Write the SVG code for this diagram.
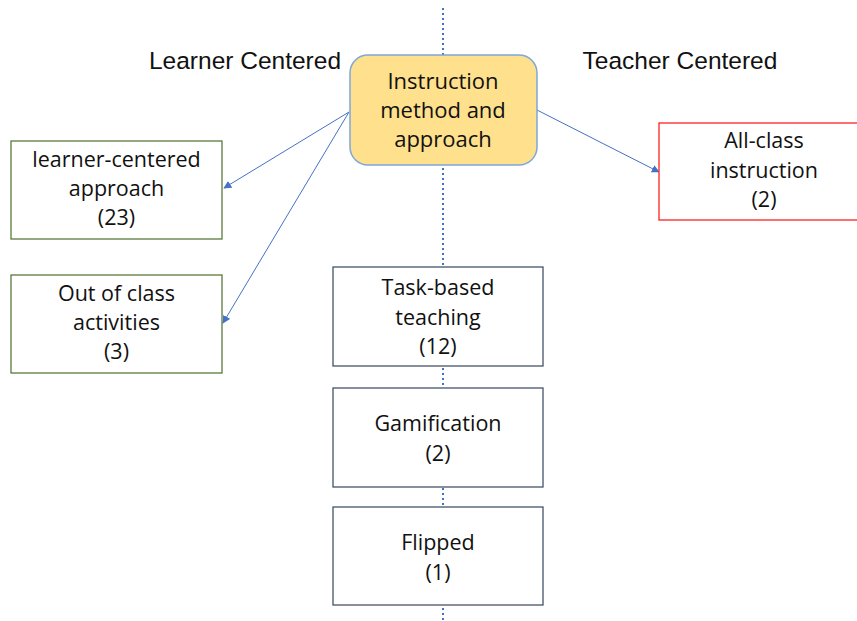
<svg xmlns="http://www.w3.org/2000/svg" width="857" height="621" viewBox="0 0 857 621">
<defs>
<style>
.t{font-family:"Open Sans","Noto Sans",sans-serif;font-size:21.5px;fill:#111;text-anchor:middle}
.h{font-family:"Liberation Sans",Arial,sans-serif;font-size:24.5px;fill:#111;text-anchor:middle}
.g{fill:#fff;stroke:#5A7A3A;stroke-width:1.3}
.b{fill:#fff;stroke:#44546A;stroke-width:1.3}
.r{fill:#fff;stroke:#FF2020;stroke-width:1.3}
.c{stroke:#4472C4;stroke-width:1;fill:none}
.d{stroke:#4472C4;stroke-width:2;stroke-dasharray:2 3;fill:none}
</style>
<marker id="ah" viewBox="0 0 10 10" refX="9" refY="5" markerWidth="8" markerHeight="8" markerUnits="userSpaceOnUse" orient="auto">
<path d="M0,0 L10,5 L0,10 z" fill="#4472C4"/>
</marker>
</defs>
<g id="axis">
<line class="d" x1="443" y1="8" x2="443" y2="620"/>
</g>
<text class="h" x="245" y="69">Learner Centered</text>
<text class="h" x="680" y="69">Teacher Centered</text>
<g id="connectors">
<line class="c" x1="349" y1="112" x2="224" y2="188" marker-end="url(#ah)"/>
<line class="c" x1="349" y1="112" x2="223" y2="323" marker-end="url(#ah)"/>
<line class="c" x1="537" y1="110" x2="659" y2="172" marker-end="url(#ah)"/>
</g>
<g id="center">
<rect x="350" y="55" width="187" height="110" rx="18" fill="#FFE08C" stroke="#7FA7D8" stroke-width="1.5"/>
<text class="t" x="443" y="89" style="font-size:22px">Instruction</text>
<text class="t" x="443" y="118" style="font-size:22px">method and</text>
<text class="t" x="443" y="147" style="font-size:22px">approach</text>
</g>
<g id="learner">
<rect class="g" x="11" y="141" width="211" height="98"/>
<text class="t" x="116.5" y="167">learner-centered</text>
<text class="t" x="116.5" y="196">approach</text>
<text class="t" x="116.5" y="225">(23)</text>
</g>
<g id="outclass">
<rect class="g" x="11" y="275" width="211" height="98"/>
<text class="t" x="116.5" y="301">Out of class</text>
<text class="t" x="116.5" y="330">activities</text>
<text class="t" x="116.5" y="359">(3)</text>
</g>
<g id="allclass">
<rect class="r" x="659" y="123" width="205" height="97"/>
<text class="t" x="764" y="148">All-class</text>
<text class="t" x="764" y="178">instruction</text>
<text class="t" x="764" y="207">(2)</text>
</g>
<g id="task">
<rect class="b" x="333" y="267" width="210" height="99"/>
<text class="t" x="438" y="295">Task-based</text>
<text class="t" x="438" y="325">teaching</text>
<text class="t" x="438" y="354">(12)</text>
</g>
<g id="gamification">
<rect class="b" x="333" y="388" width="210" height="99"/>
<text class="t" x="438" y="431">Gamification</text>
<text class="t" x="438" y="461">(2)</text>
</g>
<g id="flipped">
<rect class="b" x="333" y="507" width="210" height="98"/>
<text class="t" x="438" y="550">Flipped</text>
<text class="t" x="438" y="580">(1)</text>
</g>
</svg>
